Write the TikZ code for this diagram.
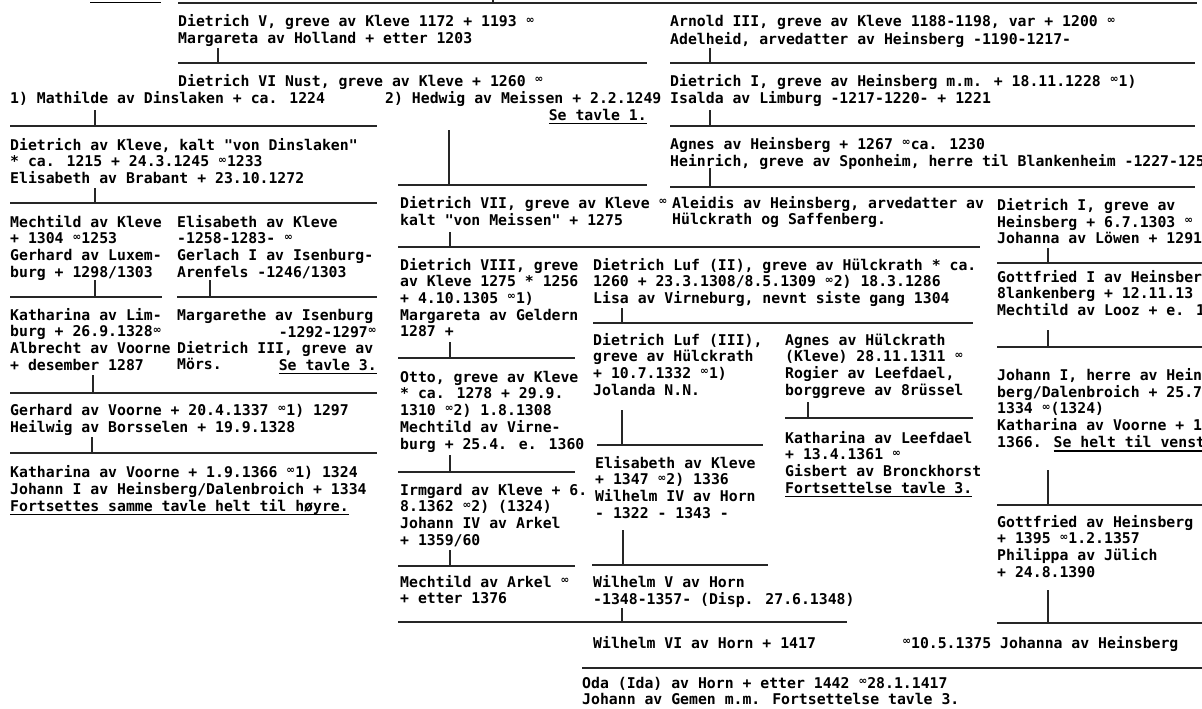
\documentclass[tikz,border=0pt]{standalone}
\usepackage{fontspec}
\usetikzlibrary{calc}
\newfontfamily\tavlefont{DejaVu Sans Mono}
\newfontfamily\symfont{DejaVu Sans}
\newcommand{\gift}{\makebox[8.9pt]{\raisebox{3.5pt}{\symfont\bfseries\fontsize{10.5}{10.5}\selectfont ∞}}}
\newcommand{\undl}[1]{\sbox0{#1}\rlap{\rule[-4pt]{\wd0}{1.4pt}}\usebox0}
\newcommand{\rows}[1]{\begin{tabular}[t]{@{}l@{}}#1\end{tabular}}

\begin{document}
\begin{tikzpicture}[x=1pt, y=-1pt,
    font={\tavlefont\bfseries\fontsize{14.8}{16.7}\selectfont},
    entry/.style={anchor=base west, inner sep=0pt},
    entryr/.style={anchor=base east, inner sep=0pt},
    bar/.style={line width=1.7pt, black!85}]
  \useasboundingbox (0,0) rectangle (1202,709);
  % family bars: name/left/right/y/stem x/stem top
  \foreach \n/\xa/\xb/\y/\xs/\ys in {1/178/1197/3/493/-8, 2/178/647/63/218/48,
      3/670/1195/63/710/48, 4/10/377/126/95/110, 5/670/1195/126/710/110,
      6/398/647/185/449/130, 7/10/377/203/95/188, 8/670/1195/187/710/168,
      9/10/162/297/95/280, 10/177/377/297/210/280, 11/398/980/247/450/232,
      12/997/1202/263/1048/248, 13/593/973/323/622/308, 14/398/575/358/450/342,
      15/997/1202/347/1048/330, 16/10/377/393/93/375, 17/10/377/453/92/437,
      18/398/575/472/450/455, 19/597/763/445/622/410, 20/785/973/418/808/402,
      21/997/1202/505/1048/470, 22/592/768/565/623/530, 23/398/575/566/450/550,
      24/997/1202/623/1048/590, 25/398/847/622/622/608}{
    \coordinate (barl\n) at (\xa,\y);
    \coordinate (barr\n) at (\xb,\y);
    \coordinate (stem\n) at (\xs,\ys);
    \draw[bar] (barl\n) -- (barr\n);
    \draw[bar] (stem\n) -- (stem\n |- barl\n);
  }
  \coordinate (barl26) at (582,668);
  \coordinate (barr26) at (1202,668);
  \draw[bar] (barl26) -- (barr26);

  % top generations
  \node[entry] (tavle) at (90,-1) {\undl{Tavle 1.}};
  \node[entry] (dietrichV) at (178,27) {\rows{Dietrich V, greve av Kleve 1172 + 1193 \gift\\Margareta av Holland + etter 1203}};
  \node[entry] (arnold) at (670,27) {\rows{Arnold III, greve av Kleve 1188-1198, var + 1200 \gift\\Adelheid, arvedatter av Heinsberg -1190-1217-}};
  \node[entry] (dietrichVI) at (178,86) {Dietrich VI Nust, greve av Kleve + 1260 \gift};
  \node[entry] (mathilde) at (10,103) {1) Mathilde av Dinslaken + ca. 1224};
  \node[entry] (hedwig) at (385,103) {2) Hedwig av Meissen + 2.2.1249};
  \node[entryr] (setavle1) at (647,120) {\undl{Se tavle 1.}};
  \node[entry] (dietrichIa) at (670,86) {\rows{Dietrich I, greve av Heinsberg m.m. + 18.11.1228 \gift 1)\\Isalda av Limburg -1217-1220- + 1221}};

  % left branch
  \node[entry] (dinslaken) at (10,150) {\rows{Dietrich av Kleve, kalt "von Dinslaken"\\{*} ca. 1215 + 24.3.1245 \gift 1233\\Elisabeth av Brabant + 23.10.1272}};
  \node[entry] (mechtildK) at (10,227) {\rows{Mechtild av Kleve\\+ 1304 \gift 1253\\Gerhard av Luxem-\\burg + 1298/1303}};
  \node[entry] (elisabethK) at (177,227) {\rows{Elisabeth av Kleve\\-1258-1283- \gift\\Gerlach I av Isenburg-\\Arenfels -1246/1303}};
  \node[entry] (katharinaLi) at (10,320) {\rows{Katharina av Lim-\\burg + 26.9.1328\gift\\Albrecht av Voorne\\+ desember 1287}};
  \node[entry] (margarethe) at (177,320) {Margarethe av Isenburg};
  \node[entryr] (margaretheD) at (377,337) {-1292-1297\gift};
  \node[entry] (dietrichIII) at (177,353) {\rows{Dietrich III, greve av\\Mörs.}};
  \node[entryr] (setavle3) at (377,370) {\undl{Se tavle 3.}};
  \node[entry] (gerhardV) at (10,415) {\rows{Gerhard av Voorne + 20.4.1337 \gift 1) 1297\\Heilwig av Borsselen + 19.9.1328}};
  \node[entry] (katharinaV) at (10,477) {\rows{Katharina av Voorne + 1.9.1366 \gift 1) 1324\\Johann I av Heinsberg/Dalenbroich + 1334\\\undl{Fortsettes samme tavle helt til høyre.}}};

  % Heinsberg line
  \node[entry] (agnesH) at (670,149) {\rows{Agnes av Heinsberg + 1267 \gift ca. 1230\\Heinrich, greve av Sponheim, herre til Blankenheim -1227-125}};
  \node[entry] (dietrichVII) at (400,208) {\rows{Dietrich VII, greve av Kleve \gift\\kalt "von Meissen" + 1275}};
  \node[entry] (aleidis) at (672,208) {\rows{Aleidis av Heinsberg, arvedatter av\\Hülckrath og Saffenberg.}};
  \node[entry] (dietrichIb) at (997,210) {\rows{Dietrich I, greve av\\Heinsberg + 6.7.1303 \gift\\Johanna av Löwen + 1291}};
  \node[entry] (gottfriedI) at (997,282) {\rows{Gottfried I av Heinsber\\8lankenberg + 12.11.13\\Mechtild av Looz + e. 1}};
  \node[entry] (johannI) at (997,380) {\rows{Johann I, herre av Hein\\berg/Dalenbroich + 25.7\\1334 \gift (1324)\\Katharina av Voorne + 1\\1366. \undl{Se helt til venst}}};
  \node[entry] (gottfriedH) at (997,527) {\rows{Gottfried av Heinsberg\\+ 1395 \gift 1.2.1357\\Philippa av Jülich\\+ 24.8.1390}};

  % middle branch
  \node[entry] (dietrichVIII) at (400,270) {\rows{Dietrich VIII, greve\\av Kleve 1275 * 1256\\+ 4.10.1305 \gift 1)\\Margareta av Geldern\\1287 +}};
  \node[entry] (lufII) at (593,270) {\rows{Dietrich Luf (II), greve av Hülckrath * ca.\\1260 + 23.3.1308/8.5.1309 \gift 2) 18.3.1286\\Lisa av Virneburg, nevnt siste gang 1304}};
  \node[entry] (lufIII) at (593,345) {\rows{Dietrich Luf (III),\\greve av Hülckrath\\+ 10.7.1332 \gift 1)\\Jolanda N.N.}};
  \node[entry] (agnesHk) at (785,345) {\rows{Agnes av Hülckrath\\(Kleve) 28.11.1311 \gift\\Rogier av Leefdael,\\borggreve av 8rüssel}};
  \node[entry] (otto) at (400,382) {\rows{Otto, greve av Kleve\\{*} ca. 1278 + 29.9.\\1310 \gift 2) 1.8.1308\\Mechtild av Virne-\\burg + 25.4. e. 1360}};
  \node[entry] (katharinaLf) at (785,443) {\rows{Katharina av Leefdael\\+ 13.4.1361 \gift\\Gisbert av Bronckhorst\\\undl{Fortsettelse tavle 3.}}};
  \node[entry] (elisabethK2) at (595,468) {\rows{Elisabeth av Kleve\\+ 1347 \gift 2) 1336\\Wilhelm IV av Horn\\- 1322 - 1343 -}};
  \node[entry] (irmgard) at (400,495) {\rows{Irmgard av Kleve + 6.\\8.1362 \gift 2) (1324)\\Johann IV av Arkel\\+ 1359/60}};
  \node[entry] (mechtildA) at (400,587) {\rows{Mechtild av Arkel \gift\\+ etter 1376}};
  \node[entry] (wilhelmV) at (593,587) {\rows{Wilhelm V av Horn\\-1348-1357- (Disp. 27.6.1348)}};
  \node[entry] (wilhelmVI) at (593,648) {Wilhelm VI av Horn + 1417};
  \node[entry] (johannaH) at (902,648) {\gift10.5.1375 Johanna av Heinsberg};
  \node[entry] (oda) at (582,688) {\rows{Oda (Ida) av Horn + etter 1442 \gift28.1.1417\\Johann av Gemen m.m. Fortsettelse tavle 3.}};
\end{tikzpicture}
\end{document}
